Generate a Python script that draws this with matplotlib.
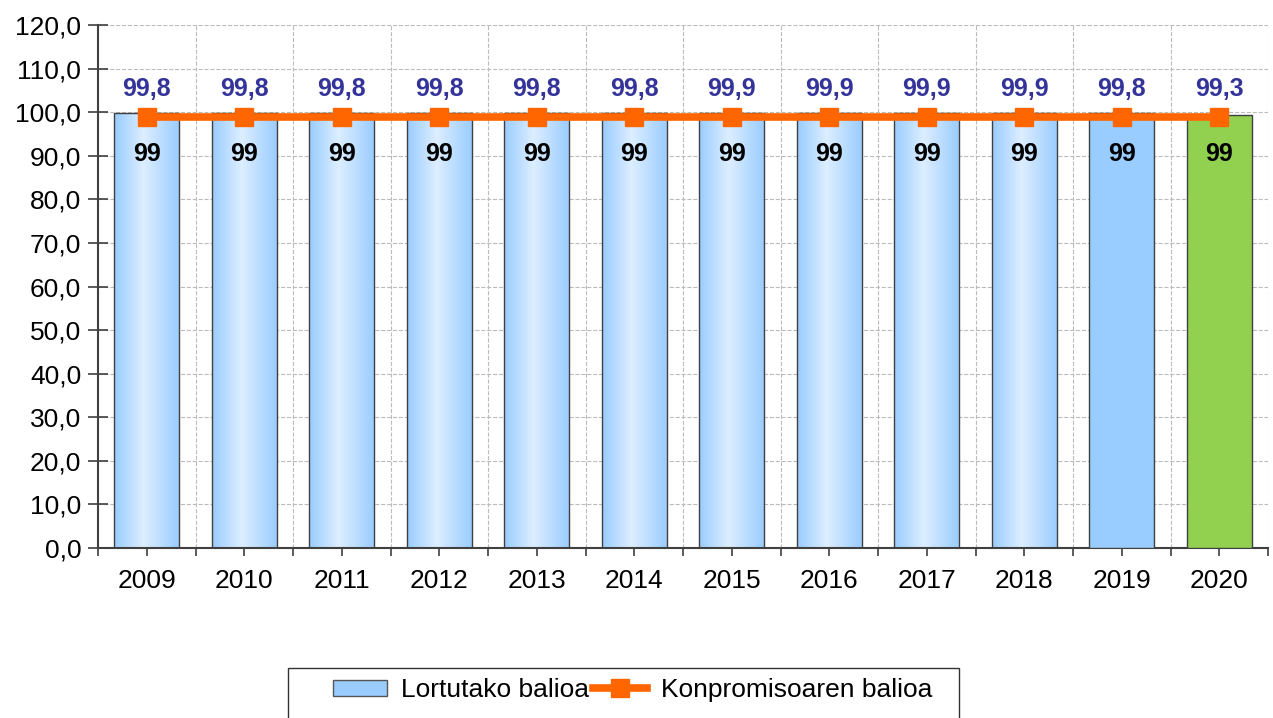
import numpy as np
import matplotlib
matplotlib.use("Agg")
import matplotlib.pyplot as plt
from matplotlib.patches import Rectangle
from matplotlib.colors import to_rgb

plt.rcParams['font.family'] = ['Liberation Sans', 'DejaVu Sans']

# datuak
years = ['2009', '2010', '2011', '2012', '2013', '2014',
         '2015', '2016', '2017', '2018', '2019', '2020']
lortutako = [99.8, 99.8, 99.8, 99.8, 99.8, 99.8,
             99.9, 99.9, 99.9, 99.9, 99.8, 99.3]
konpromisoa = [99, 99, 99, 99, 99, 99, 99, 99, 99, 99, 99, 99]
bar_labels = ['99,8', '99,8', '99,8', '99,8', '99,8', '99,8',
              '99,9', '99,9', '99,9', '99,9', '99,8', '99,3']
yticks = np.arange(0, 121, 10)

fig = plt.figure(figsize=(12.73, 7.18), dpi=100)
ax = fig.add_axes([98/1273, 1-548/718, 1170/1273, 523/718])

x = np.arange(len(years))
width = 0.67

# gradientea zutabeetarako
blue = np.array(to_rgb('#99CCFF'))
light = np.array(to_rgb('#DDEEFF'))
t = np.linspace(0, 1, 200)
w = np.where(t < 0.45, t/0.45, (1-t)/0.55)
grad = (blue[None, :]*(1-w[:, None]) + light[None, :]*w[:, None])[None, :, :]

colors = ['grad']*10 + ['#99CCFF', '#92D050']
bars = ax.bar(x, lortutako, width, color='none', edgecolor='#404040',
              linewidth=1.0, zorder=3, label='Lortutako balioa')
for b, c in zip(bars, colors):
    if c == 'grad':
        im = ax.imshow(grad, extent=[b.get_x(), b.get_x()+b.get_width(), 0, b.get_height()],
                       aspect='auto', zorder=2.5, interpolation='bilinear')
        im.set_clip_path(b)
    else:
        b.set_facecolor(c)

ax.plot(x, konpromisoa, color='#FF6600', linewidth=5.5, marker='s', markersize=13,
        zorder=4, label='Konpromisoaren balioa')

for xi, v, lab in zip(x, lortutako, bar_labels):
    ax.text(xi, 105.4, lab, ha='center', va='center', fontsize=18, fontweight='bold',
            color='#333399', zorder=5)
for xi, v in zip(x, konpromisoa):
    ax.text(xi, 90.3, f'{v}', ha='center', va='center', fontsize=18, fontweight='bold',
            color='black', zorder=5)

ax.set_xlim(-0.5, len(years)-0.5)
ax.set_ylim(0, 120)
ax.set_yticks(yticks)
ax.set_yticklabels([f'{v:.1f}'.replace('.', ',') for v in yticks], fontsize=19)
ax.set_xticks(x)
ax.set_xticklabels(years, fontsize=19)
ax.set_xticks(np.arange(-0.5, len(years)), minor=True)
ax.tick_params(axis='x', which='both', direction='out', length=6, width=1.2, color='#404040', pad=9)
ax.tick_params(axis='y', direction='inout', length=14, width=1.2, color='#404040', pad=5)

ax.grid(True, axis='y', which='major', linestyle='--', color='#BBBBBB', linewidth=0.8, zorder=0)
ax.grid(True, axis='x', which='minor', linestyle='--', color='#BBBBBB', linewidth=0.8, zorder=0)
ax.set_axisbelow(True)
for s in ['top', 'right']:
    ax.spines[s].set_visible(False)
for s in ['left', 'bottom']:
    ax.spines[s].set_color('#404040')
    ax.spines[s].set_linewidth(1.5)

# legenda
fig.patches.append(Rectangle((288/1273, -0.02), 671/1273, 1-668/718+0.02,
                             transform=fig.transFigure, fill=False,
                             edgecolor='#333333', linewidth=1.0))
leg = fig.legend(handles=[Rectangle((0, 0), 1, 1, facecolor='#99CCFF', edgecolor='#555555'),
                          ax.lines[0]],
                 labels=['Lortutako balioa', 'Konpromisoaren balioa'],
                 loc='center', bbox_to_anchor=(633/1273, 1-690/718), ncol=2,
                 frameon=False, fontsize=19, handlelength=2.05, handletextpad=0.53,
                 columnspacing=0.15, handleheight=0.55)

fig.savefig('out.png', dpi=100)
